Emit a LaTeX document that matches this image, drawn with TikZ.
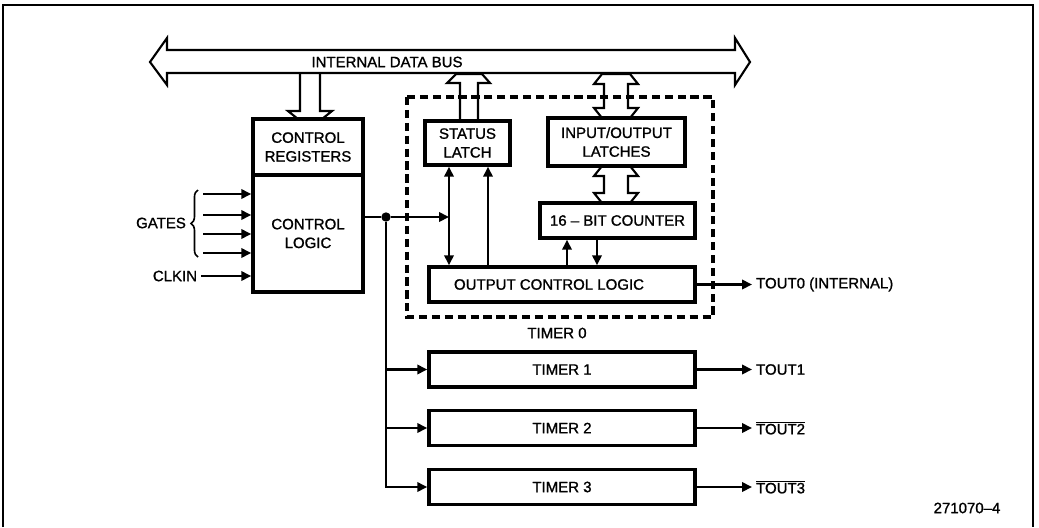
\documentclass[tikz,border=0pt]{standalone}
\usepackage{fontspec}
\setmainfont{Liberation Sans}[BoldFont=Liberation Sans,BoldFeatures={FakeBold=1.2}]
\usetikzlibrary{arrows.meta,calc,decorations.pathreplacing}

\begin{document}
\begin{tikzpicture}[x=0.03cm,y=-0.03cm,>={Triangle[length=8.5pt,width=8pt]},
  font=\fontsize{12.8}{16}\selectfont\bfseries,
  blk/.style={draw,line width=3pt,align=center,inner sep=0pt},
  wide/.style={blk,minimum width=7.98cm,minimum height=1.05cm},
  wire/.style={line width=2pt},
  hollow/.style={draw,line width=1.8pt,line join=miter}]
\useasboundingbox (0,0) rectangle (1039,527);
\draw[line width=1.6pt] (3,527) -- (3,5) -- (1033,5) -- (1033,527);

% data bus
\draw[hollow] (150,62) -- (167,38) -- (167,50) -- (735,50) -- (735,38) -- (750,62)
  -- (735,85) -- (735,73) -- (167,73) -- (167,85) -- cycle;
\node (busname) at (387,62) {INTERNAL DATA BUS};

\node[blk,minimum width=3.3cm,minimum height=1.68cm] (ctrlreg) at (308,147) {CONTROL\\REGISTERS};
\node[blk,minimum width=3.3cm,minimum height=3.51cm] (ctrllogic) at (308,233.5) {CONTROL\\LOGIC};
\node[blk,minimum width=2.55cm,minimum height=1.32cm] (statlatch) at (467.5,143) {STATUS\\LATCH};
\node[blk,minimum width=4.11cm,minimum height=1.44cm] (iolatch) at (616.5,142) {INPUT/OUTPUT\\LATCHES};
\node[blk,minimum width=4.65cm,minimum height=1.05cm] (counter) at (617.5,220.5) {16 -- BIT COUNTER};
\node[wide] (ocl) at (562,284.5) {OUTPUT CONTROL LOGIC\hspace*{0.78cm}};
\foreach \i/\y in {1/369.5,2/428,3/487}
  \node[wide] (timer\i) at (562,\y) {TIMER \i};

\draw[line width=2.6pt,dash pattern=on 7pt off 4pt] (407,97) rectangle (713,317);
\node (timer0) at (557,333) {TIMER 0};

% bus connections
\draw[hollow] (300,73) -- (300,111) -- (288,111) -- (298,119) -- (322,119) -- (332,111) -- (320,111) -- (320,73);
\draw[hollow] (460,121) -- (460,83) -- (447,83) -- (456,74) -- (482,74) -- (490,83) -- (478,83) -- (478,121);
\draw[hollow] (604,84) -- (594,84) -- (602,74) -- (630,74) -- (638,84) -- (628,84) -- (628,108)
  -- (638,108) -- (630,118) -- (602,118) -- (594,108) -- (604,108) -- cycle;
\draw[hollow] (604,176) -- (594,176) -- (602,166) -- (630,166) -- (638,176) -- (628,176) -- (628,193)
  -- (638,193) -- (630,203) -- (602,203) -- (594,193) -- (604,193) -- cycle;

% inputs
\draw[line width=1.4pt,decorate,decoration={brace,amplitude=6pt}] (198,257) -- (198,190);
\node (gates) at (161,223) {GATES};
\foreach \y [count=\i] in {194,215,234,253}{
  \coordinate (g\i) at (203,\y);
  \draw[wire,->] (g\i) -- (g\i -| ctrllogic.west);
}
\node (clkin) at (175,276) {CLKIN};
\draw[wire,->] (clkin.east) -- (clkin.east -| ctrllogic.west);

% timer 0 inside
\coordinate (sl1) at ($(statlatch.south)+(-18.5,0)$);
\coordinate (sl2) at ($(statlatch.south)+(20.5,0)$);
\coordinate (cn1) at ($(counter.south)+(-50.5,0)$);
\coordinate (cn2) at ($(counter.south)+(-20.5,0)$);
\draw[wire,<->] (sl1) -- (sl1 |- ocl.north);
\draw[wire,->] (sl2 |- ocl.north) -- (sl2);
\draw[wire,->] (cn1 |- ocl.north) -- (cn1);
\draw[wire,->] (cn2) -- (cn2 |- ocl.north);

\node[circle,fill,inner sep=0pt,minimum size=8pt] (split) at (386,217) {};
\draw[wire] (ctrllogic.east |- split) -- (split);
\draw[wire,->] (split) -- (split -| sl1);
\foreach \i in {1,2,3}
  \draw[wire,->] (split) |- (timer\i.west);

% outputs
\node[anchor=west] (tout0) at (752,284.5) {TOUT0 (INTERNAL)};
\node[anchor=west] (tout1) at (752,369.5) {TOUT1};
\node[anchor=west] (tout2) at (752,428) {$\overline{\mbox{TOUT2}}$};
\node[anchor=west] (tout3) at (752,487) {$\overline{\mbox{TOUT3}}$};
\draw[wire,->] (ocl.east) -- (tout0.west);
\foreach \i in {1,2,3}
  \draw[wire,->] (timer\i.east) -- (tout\i.west);

\node (fignum) at (967,508) {271070--4};
\end{tikzpicture}
\end{document}
